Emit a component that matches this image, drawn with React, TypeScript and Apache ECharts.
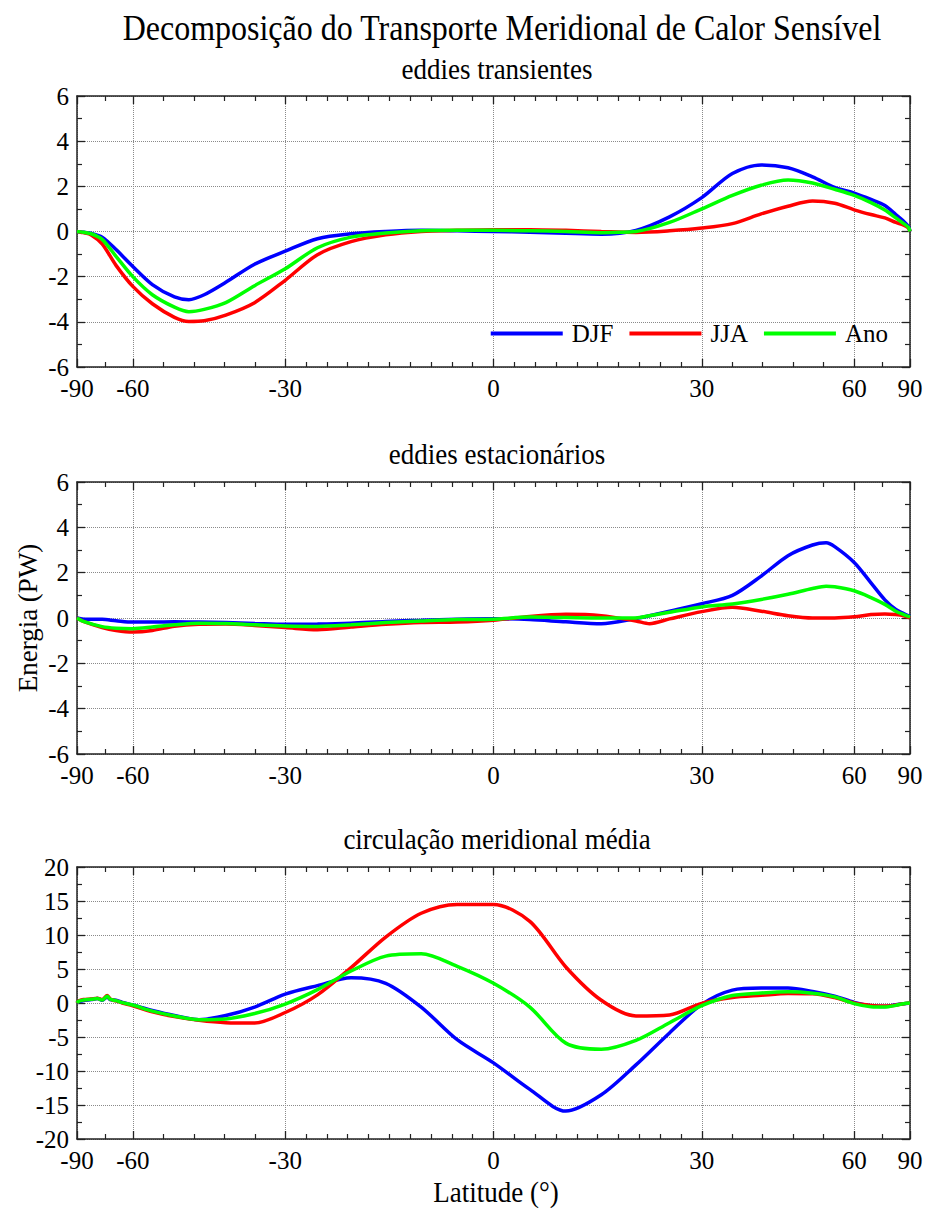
import React, { useEffect, useRef } from "react";
import * as echarts from "echarts";

const FONT = "'Liberation Serif', 'Times New Roman', serif";

// Latitude tick labels (x axis is linear in sin(latitude))
const latTicks = [-90, -60, -30, 0, 30, 60, 90];
const minorDivisions = [2, 5, 10, 10, 5, 2];

const seriesNames = ["DJF", "JJA", "Ano"];
const seriesColors = ["#0000ff", "#ff0000", "#00ff00"];

const panelTitles = ["eddies transientes", "eddies estacionários", "circulação meridional média"];

// Panel 1: eddies transientes
const latT = [-90, -85, -80, -75, -70, -65, -60, -55, -50, -47, -44, -40, -35, -30, -25, -20, -15, -10, -5, 0, 5, 10, 15, 20, 25, 30, 35, 40, 45, 50, 55, 60, 65, 70, 75, 80, 85, 90];
const djfT = [0, -0.01, -0.03, -0.08, -0.25, -0.8, -1.55, -2.35, -2.9, -3.02, -2.8, -2.25, -1.45, -0.87, -0.32, -0.1, 0, 0.05, 0.03, 0, -0.03, -0.08, -0.12, 0.05, 0.65, 1.5, 2.57, 2.95, 2.82, 2.42, 1.95, 1.7, 1.42, 1.15, 0.75, 0.45, 0.22, 0];
const jjaT = [0, -0.01, -0.05, -0.15, -0.55, -1.5, -2.43, -3.2, -3.8, -3.98, -3.95, -3.7, -3.15, -2.16, -1.03, -0.45, -0.15, 0, 0.05, 0.08, 0.08, 0.05, 0, -0.04, 0.03, 0.15, 0.35, 0.78, 1.12, 1.35, 1.25, 0.96, 0.75, 0.6, 0.4, 0.28, 0.15, 0];
const anoT = [0, -0.01, -0.03, -0.1, -0.35, -1.1, -2.0, -2.8, -3.35, -3.55, -3.45, -3.15, -2.4, -1.65, -0.72, -0.25, -0.07, 0.03, 0.05, 0.05, 0.03, 0, -0.05, 0, 0.4, 1.0, 1.6, 2.05, 2.28, 2.15, 1.87, 1.6, 1.28, 0.95, 0.6, 0.35, 0.18, 0];

// Panel 2: eddies estacionários
const latS = [-90, -80, -70, -65, -60, -55, -50, -45, -40, -35, -30, -25, -20, -15, -10, -5, 0, 5, 10, 15, 20, 22, 25, 30, 35, 40, 45, 50, 53, 55, 60, 65, 70, 75, 80, 90];
const djfS = [0, -0.05, -0.06, -0.12, -0.18, -0.18, -0.17, -0.18, -0.2, -0.24, -0.28, -0.27, -0.23, -0.15, -0.1, -0.05, -0.03, -0.07, -0.17, -0.25, -0.02, 0.1, 0.3, 0.63, 1.0, 1.85, 2.75, 3.22, 3.32, 3.15, 2.45, 1.55, 0.8, 0.38, 0.2, 0.07];
const jjaS = [0, -0.15, -0.42, -0.55, -0.62, -0.55, -0.36, -0.28, -0.27, -0.33, -0.42, -0.52, -0.4, -0.28, -0.2, -0.18, -0.1, 0.07, 0.16, 0.1, -0.13, -0.25, -0.04, 0.28, 0.47, 0.3, 0.1, 0, 0, 0, 0.05, 0.15, 0.18, 0.15, 0.1, 0];
const anoS = [0, -0.15, -0.38, -0.45, -0.47, -0.4, -0.3, -0.23, -0.24, -0.3, -0.35, -0.37, -0.3, -0.2, -0.13, -0.07, -0.05, 0.04, 0.02, 0, 0, 0.1, 0.25, 0.49, 0.62, 0.82, 1.05, 1.3, 1.4, 1.38, 1.2, 0.9, 0.6, 0.3, 0.15, 0.05];

// Panel 3: circulação meridional média
const latM = [-90, -85, -80, -75, -72, -70, -68, -67, -65, -63, -60, -55, -50, -45, -40, -35, -30, -25, -20, -15, -10, -5, 0, 5, 10, 15, 20, 25, 30, 35, 40, 45, 50, 55, 60, 65, 70, 75, 80, 90];
const djfM = [0, 0.2, 0.35, 0.5, 0.65, 0.4, 0.9, 0.5, 0.4, 0.1, -0.3, -1.1, -1.85, -2.45, -1.85, -0.6, 1.3, 2.55, 3.7, 2.9, -0.6, -5.4, -8.8, -12.7, -15.9, -13.5, -9.1, -4.4, -0.2, 1.9, 2.2, 2.2, 1.7, 1.0, 0.1, -0.4, -0.5, -0.25, -0.1, 0];
const jjaM = [0, 0.3, 0.5, 0.6, 0.7, 0.5, 1.1, 0.6, 0.3, 0, -0.4, -1.3, -2.0, -2.55, -2.9, -2.95, -1.4, 1.2, 5.2, 9.7, 13.2, 14.5, 14.5, 12.0, 5.3, 0.4, -1.9, -1.75, -0.05, 0.8, 1.13, 1.4, 1.35, 0.8, 0, -0.35, -0.45, -0.3, -0.1, 0];
const anoM = [0, 0.25, 0.45, 0.55, 0.65, 0.45, 1.0, 0.55, 0.35, 0.05, -0.3, -1.2, -1.9, -2.45, -2.35, -1.55, -0.15, 1.96, 4.7, 6.9, 7.25, 5.4, 2.9, -0.6, -5.9, -6.8, -5.5, -2.9, -0.4, 1.1, 1.47, 1.65, 1.45, 0.9, -0.1, -0.55, -0.6, -0.35, -0.1, 0];

// Y axis ranges
const yMin = [-6, -6, -20];
const yMax = [6, 6, 20];
const yStep = [2, 2, 5];

const panels = [
  { lat: latT, values: [djfT, jjaT, anoT] },
  { lat: latS, values: [djfS, jjaS, anoS] },
  { lat: latM, values: [djfM, jjaM, anoM] },
];

const toSin = (lat: number) => Math.sin((lat * Math.PI) / 180);

function buildOption() {
  const majorSin = latTicks.map(toSin);
  const minorSin: number[] = [];
  for (let i = 0; i < majorSin.length - 1; i++) {
    const a = majorSin[i];
    const b = majorSin[i + 1];
    const n = minorDivisions[i];
    for (let k = 1; k < n; k++) minorSin.push(a + ((b - a) * k) / n);
  }

  const gridTops = [96, 482, 867];
  const gridHeights = [271, 272, 272];
  const axisColor = "#222";
  const gridLineStyle = { type: "dotted", color: "#8a8a8a", width: 1 };

  const grid = gridTops.map((top, i) => ({
    left: 77,
    top,
    width: 833,
    height: gridHeights[i],
    containLabel: false,
    outerBoundsMode: "none",
  }));

  const xAxis: any[] = [];
  const yAxis: any[] = [];
  const series: any[] = [];

  const labelFmt = (v: number) => {
    const c = Math.max(-1, Math.min(1, v));
    const d = Math.round((Math.asin(c) * 180) / Math.PI);
    return String(d === 0 ? 0 : d);
  };

  for (let g = 0; g < 3; g++) {
    const base = { type: "value", gridIndex: g, min: -1, max: 1 };
    const lineOn = { show: true, onZero: false, lineStyle: { color: axisColor, width: 1.5 } };
    const majorTick = { show: true, inside: true, length: 8, customValues: majorSin, lineStyle: { color: axisColor, width: 1.3 } };
    const minorTickAx = { show: true, inside: true, length: 5, customValues: minorSin, lineStyle: { color: axisColor, width: 1.2 } };
    xAxis.push({
      ...base,
      position: "bottom",
      axisLine: lineOn,
      axisTick: majorTick,
      axisLabel: { show: true, customValues: majorSin, formatter: labelFmt, color: "#000", fontSize: 25, fontFamily: FONT, margin: 9 },
      splitLine: { show: true, lineStyle: gridLineStyle },
      minorTick: { show: false },
    });
    xAxis.push({
      ...base,
      position: "top",
      axisLine: lineOn,
      axisTick: majorTick,
      axisLabel: { show: false },
      splitLine: { show: false },
    });
    xAxis.push({
      ...base,
      position: "bottom",
      axisLine: { show: false, onZero: false },
      axisTick: minorTickAx,
      axisLabel: { show: false },
      splitLine: { show: false },
    });
    xAxis.push({
      ...base,
      position: "top",
      axisLine: { show: false, onZero: false },
      axisTick: minorTickAx,
      axisLabel: { show: false },
      splitLine: { show: false },
    });

    const yBase = {
      type: "value",
      gridIndex: g,
      min: yMin[g],
      max: yMax[g],
      interval: yStep[g],
      axisLine: { show: true, onZero: false, lineStyle: { color: axisColor, width: 1.5 } },
      axisTick: { show: true, inside: true, length: 8, lineStyle: { color: axisColor, width: 1.3 } },
      minorTick: { show: true, splitNumber: 2, length: 5, lineStyle: { color: axisColor, width: 1.2 } },
    };
    yAxis.push({
      ...yBase,
      position: "left",
      axisLabel: { show: true, color: "#000", fontSize: 25, fontFamily: FONT, margin: 8 },
      splitLine: { show: true, lineStyle: gridLineStyle },
    });
    yAxis.push({
      ...yBase,
      position: "right",
      axisLabel: { show: false },
      splitLine: { show: false },
    });

    const p = panels[g];
    for (let s = 0; s < 3; s++) {
      series.push({
        type: "line",
        name: seriesNames[s],
        xAxisIndex: g * 4,
        yAxisIndex: g * 2,
        data: p.lat.map((lat, i) => [toSin(lat), p.values[s][i]]),
        symbol: "none",
        showSymbol: false,
        smooth: 0.3,
        lineStyle: { width: 3.5, color: seriesColors[s] },
        itemStyle: { color: seriesColors[s] },
        emphasis: { disabled: true },
        z: 3 + s,
      });
    }
  }

  const textStyle = (size: number) => ({ fontSize: size, fontFamily: FONT, fill: "#000" });

  const graphic: any[] = [
    {
      type: "text",
      x: 502,
      y: 27,
      scaleY: 1.15,
      style: { ...textStyle(32), text: "Decomposição do Transporte Meridional de Calor Sensível", textAlign: "center", textVerticalAlign: "middle" },
    },
    ...panelTitles.map((t, i) => ({
      type: "text",
      x: 497,
      y: [68, 453, 838][i],
      scaleY: 1.12,
      style: { ...textStyle(27), text: t, textAlign: "center", textVerticalAlign: "middle" },
    })),
    {
      type: "text",
      x: 28,
      y: 618,
      rotation: Math.PI / 2,
      style: { ...textStyle(27), text: "Energia (PW)", textAlign: "center", textVerticalAlign: "middle" },
    },
    {
      type: "text",
      x: 496,
      y: 1192,
      scaleY: 1.1,
      style: { ...textStyle(27), text: "Latitude (°)", textAlign: "center", textVerticalAlign: "middle" },
    },
  ];

  return {
    animation: false,
    backgroundColor: "#ffffff",
    grid,
    xAxis,
    yAxis,
    series,
    graphic,
    legend: {
      data: seriesNames,
      right: 39,
      top: 321,
      padding: 0,
      itemWidth: 72,
      itemHeight: 4,
      itemGap: 16,
      icon: "rect",
      selectedMode: false,
      textStyle: { fontSize: 25, fontFamily: FONT, color: "#000", padding: [0, 0, 0, 4] },
    },
    tooltip: { show: false },
  };
}

export default function App() {
  const ref = useRef<HTMLDivElement>(null);
  useEffect(() => {
    document.body.style.margin = "0";
    const chart = echarts.init(ref.current!, null, { renderer: "svg" });
    chart.setOption(buildOption() as any);
    return () => chart.dispose();
  }, []);
  return <div ref={ref} style={{ width: 927, height: 1210 }} />;
}
